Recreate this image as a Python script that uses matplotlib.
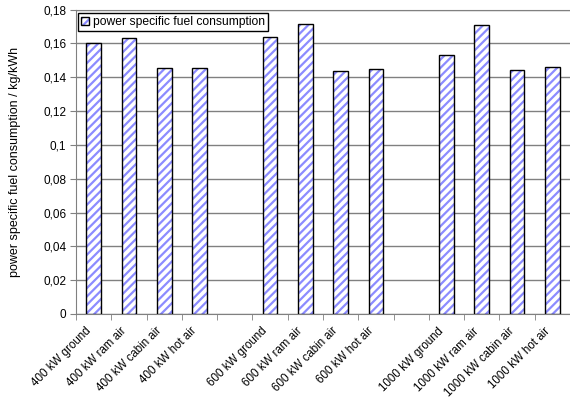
import numpy as np
import matplotlib
matplotlib.use("Agg")
import matplotlib.pyplot as plt
from matplotlib.patches import Patch
from matplotlib.colors import to_rgba

plt.rcParams['font.family'] = ['Liberation Sans', 'DejaVu Sans']
plt.rcParams['hatch.linewidth'] = 1.6

# data
groups = ['400 kW', '600 kW', '1000 kW']
cases = ['ground', 'ram air', 'cabin air', 'hot air']
psfc = [
    [0.1605, 0.1630, 0.1453, 0.1455],   # 400 kW
    [0.1636, 0.1714, 0.1437, 0.1449],   # 600 kW
    [0.1531, 0.1709, 0.1441, 0.1459],   # 1000 kW
]
yticks = [0, 0.02, 0.04, 0.06, 0.08, 0.1, 0.12, 0.14, 0.16, 0.18]
ytick_labels = ['0', '0,02', '0,04', '0,06', '0,08', '0,1', '0,12', '0,14', '0,16', '0,18']

hatch_col = '#8c8cff'
grid_col = '#808080'

# one empty slot between the groups
xpos, labels, vals = [], [], []
for gi, g in enumerate(groups):
    for ci, c in enumerate(cases):
        xpos.append(gi * 5 + ci)
        labels.append(g + ' ' + c)
        vals.append(psfc[gi][ci])
xpos = np.array(xpos)

fig = plt.figure(figsize=(5.7, 4.01), dpi=100)
ax = fig.add_axes([0.1333, 0.217, 0.8667, 0.759])

w = 0.42
bars = ax.bar(xpos, vals, w, color='white', edgecolor='black', linewidth=1.0,
              hatch='////', zorder=3)
for b in bars:
    b._hatch_color = to_rgba(hatch_col)   # blue stripes, black outline

ax.set_xlim(-0.5, 13.5)
ax.set_ylim(0, 0.18)
ax.set_yticks(yticks)
ax.set_yticklabels(ytick_labels, fontsize=8.5)
ax.yaxis.grid(True, color=grid_col, linewidth=1.0, zorder=0)
ax.set_axisbelow(True)

# label ticks have no length, so nudge them left of the bar centre
ax.set_xticks(xpos - 0.25)
ax.set_xticklabels(labels, rotation=45, ha='right', va='top',
                   rotation_mode='anchor', fontsize=8.3)
ax.set_xticks(np.arange(-0.5, 14, 1), minor=True)
ax.tick_params(axis='x', which='major', length=0, pad=8)
ax.tick_params(axis='x', which='minor', length=4, direction='out', color=grid_col)
ax.tick_params(axis='y', length=4, direction='out', color=grid_col, pad=3)

for s in ['left', 'bottom', 'top']:
    ax.spines[s].set_color(grid_col)
ax.spines['right'].set_visible(False)

ax.set_ylabel('power specific fuel consumption / kg/kWh', fontsize=9, labelpad=16)

h = Patch(facecolor='white', edgecolor='black', linewidth=1.0, hatch='////')
leg = ax.legend([h], ['power specific fuel consumption'],
                loc='upper left', bbox_to_anchor=(0.004, 0.988), borderaxespad=0,
                fontsize=8.7, fancybox=False, framealpha=1, edgecolor='black',
                handlelength=0.7, handleheight=0.7, handletextpad=0.3,
                borderpad=0.25)
leg.get_frame().set_linewidth(1.0)
for p in leg.get_patches():
    p._hatch_color = to_rgba(hatch_col)

fig.savefig('out.png', dpi=100)
